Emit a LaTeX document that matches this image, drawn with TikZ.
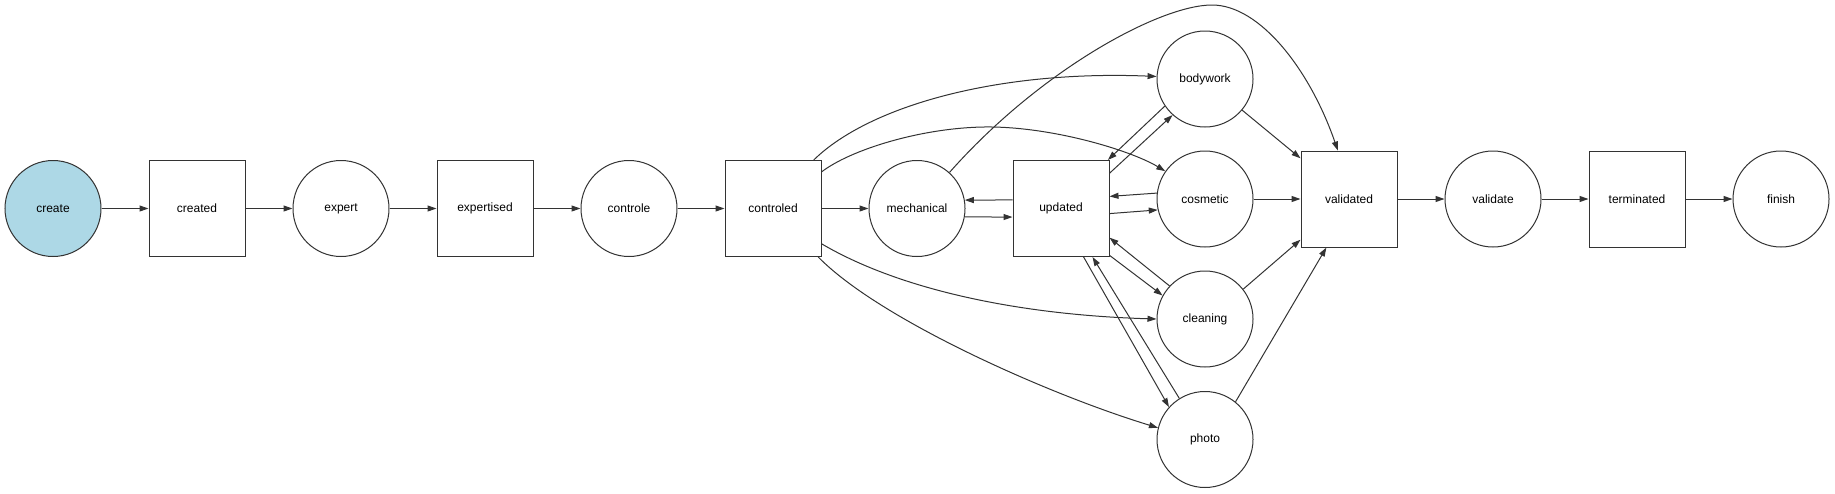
\documentclass[tikz,border=0pt]{standalone}
\usepackage{fontspec}
\setmainfont{Liberation Sans}
\usetikzlibrary{arrows.meta}
\definecolor{edgec}{HTML}{333333}
\definecolor{startfill}{HTML}{ADD8E6}
\begin{document}
\begin{tikzpicture}[x=1pt,y=-1pt,
  every node/.style={font=\fontsize{12}{14}\selectfont},
  state/.style={circle,draw=edgec,line width=1pt,minimum size=96pt,inner sep=0pt},
  box/.style={rectangle,draw=edgec,line width=1pt,minimum width=96pt,minimum height=96pt,inner sep=0pt},
  link/.style={draw=edgec,line width=1pt,-{Triangle[length=9pt,width=6pt]}}]
\useasboundingbox (0,0) rectangle (1835,493);
\node[state,fill=startfill] (create) at (53,208.5) {create};
\node[box] (created) at (197,208.5) {created};
\node[state] (expert) at (341,208.5) {expert};
\node[box] (expertised) at (485,208.5) {expertised};
\node[state] (controle) at (629,208.5) {controle};
\node[box] (controled) at (773,208.5) {controled};
\node[state] (mechanical) at (917,208.5) {mechanical};
\node[box] (updated) at (1061,208.5) {updated};
\node[state] (bodywork) at (1205,79) {bodywork};
\node[state] (cosmetic) at (1205,199) {cosmetic};
\node[state] (cleaning) at (1205,319) {cleaning};
\node[state] (photo) at (1205,439.5) {photo};
\node[box] (validated) at (1349,199) {validated};
\node[state] (validate) at (1493,199) {validate};
\node[box] (terminated) at (1637,199) {terminated};
\node[state] (finish) at (1781,199) {finish};

\path[link] (create) -- (created);
\path[link] (created) -- (expert);
\path[link] (expert) -- (expertised);
\path[link] (expertised) -- (controle);
\path[link] (controle) -- (controled);
\path[link] (controled) -- (mechanical);

\path[link] (controled.50) .. controls (870,105) and (1000,70) .. (bodywork.177);
\path[link] (controled.37) .. controls (850,150) and (920,128) .. (984,127)
   .. controls (1050,126) and (1130,150) .. (cosmetic.145);
\path[link] (controled.-36) .. controls (900,290) and (1020,315) .. (cleaning.180);
\path[link] (controled.-47) .. controls (880,320) and (1050,395) .. (photo.166);

\path[link] (mechanical.48) .. controls (1040,70) and (1160,5) .. (1212,5)
   .. controls (1260,5) and (1310,70) .. (validated.103);

\path[link] (updated.170) -- (mechanical.10);
\path[link] (mechanical.-10) -- (updated.190);

\path[link] (bodywork.214) -- (updated.46);
\path[link] (updated.36) -- (bodywork.228);
\path[link] (cosmetic.173) -- (updated.14);
\path[link] (updated.-6) -- (cosmetic.193);
\path[link] (cleaning.137) -- (updated.-31);
\path[link] (updated.-44) -- (cleaning.151);
\path[link] (updated.-65) -- (photo.138);
\path[link] (photo.122) -- (updated.-57);

\path[link] (bodywork.-40) -- (validated.140);
\path[link] (cosmetic) -- (validated);
\path[link] (cleaning.38) -- (validated.220);
\path[link] (photo.51) -- (validated.245);

\path[link] (validated) -- (validate);
\path[link] (validate) -- (terminated);
\path[link] (terminated) -- (finish);
\end{tikzpicture}
\end{document}
